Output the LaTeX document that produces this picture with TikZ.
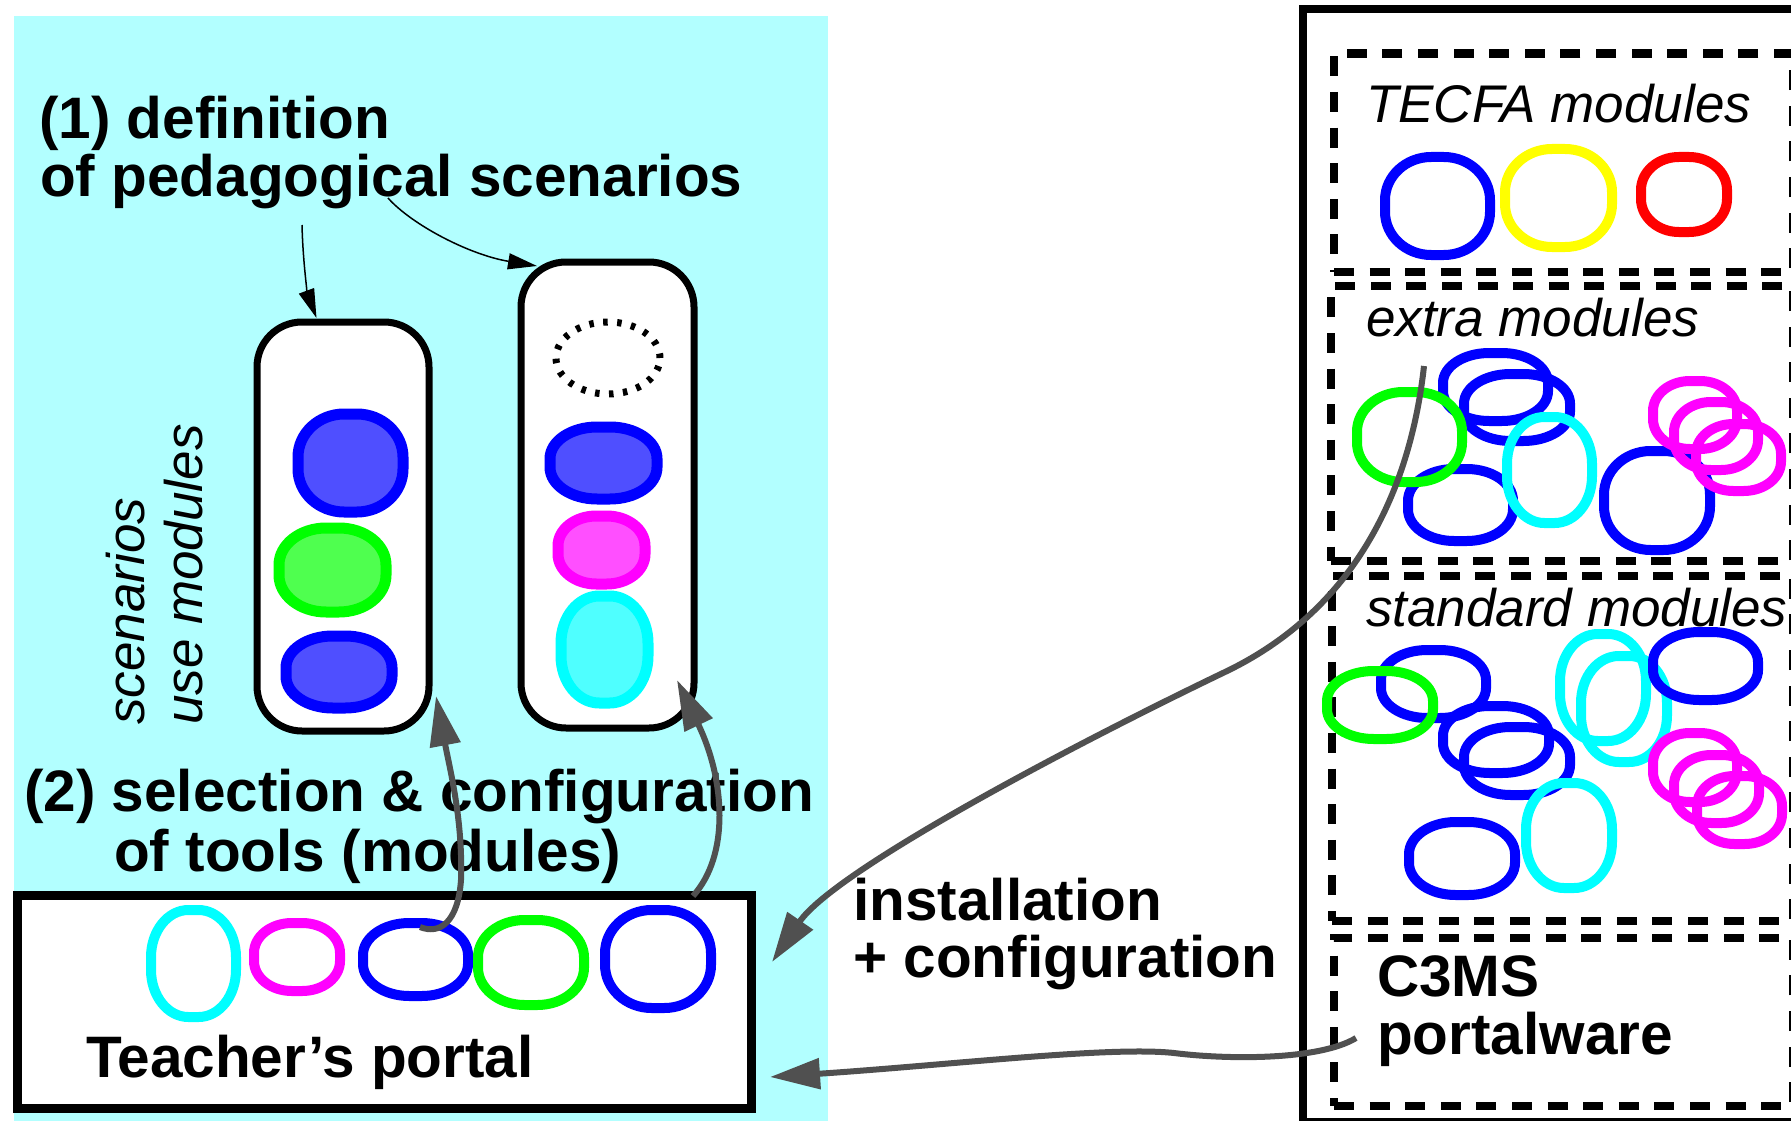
\documentclass[tikz,border=0pt]{standalone}
\usepackage{fontspec}
\setmainfont{Liberation Sans}
\usetikzlibrary{arrows.meta,shapes.geometric}

\definecolor{bgcyan}{RGB}{178,255,255}
\definecolor{arrgray}{RGB}{80,80,80}
\definecolor{mblue}{RGB}{0,0,255}
\definecolor{mgreen}{RGB}{0,255,0}
\definecolor{mcyan}{RGB}{0,255,255}
\definecolor{mmag}{RGB}{255,0,255}
\definecolor{myellow}{RGB}{255,255,0}
\definecolor{mred}{RGB}{255,0,0}
\definecolor{fblue}{RGB}{79,79,255}
\definecolor{fgreen}{RGB}{79,255,79}
\definecolor{fcyan}{RGB}{79,255,255}
\definecolor{fmag}{RGB}{255,79,255}

% a module: rounded box with elliptic corners
% [extra options]{colour}{x1}{y1}{x2}{y2}{name}, coordinates of the stroke centre
\newcommand\modring[7][]{%
  \pgfmathsetmacro\modw{#5-#3}\pgfmathsetmacro\modh{#6-#4}%
  \pgfmathsetmacro\modrx{0.44*\modw}\pgfmathsetmacro\modry{0.44*\modh}%
  \node[modnode, minimum width=\modw pt, minimum height=\modh pt]
    (#7) at ({(#3+#5)/2},{(#4+#6)/2}) {};
  \draw[ring, draw=#2, #1] ({#3+\modrx},#4) -- ({#5-\modrx},#4)
    arc[start angle=90,end angle=0,x radius=\modrx pt,y radius=\modry pt]
    -- (#5,{#6-\modry})
    arc[start angle=0,end angle=-90,x radius=\modrx pt,y radius=\modry pt]
    -- ({#3+\modrx},#6)
    arc[start angle=-90,end angle=-180,x radius=\modrx pt,y radius=\modry pt]
    -- (#3,{#4+\modry})
    arc[start angle=180,end angle=90,x radius=\modrx pt,y radius=\modry pt]
    -- cycle;}

\tikzset{
  modnode/.style={rectangle, inner sep=0pt, outer sep=0pt},
  ring/.style={line width=10pt},
  scbox/.style={rectangle, draw=black, fill=white, line width=7pt,
                rounded corners=45pt, inner sep=0pt, outer sep=0pt},
  dbox/.style={rectangle, draw=black, line width=8.5pt,
               dash pattern=on 20pt off 15.6pt, inner sep=0pt, outer sep=0pt},
  bigtext/.style={inner sep=0pt, anchor=base west,
                  font=\bfseries\fontsize{58.5}{58.5}\selectfont},
  itext/.style={inner sep=0pt, anchor=base west,
                font=\itshape\fontsize{53}{53}\selectfont},
  grayarrow/.style={draw=arrgray, line width=6pt,
                    -{Triangle[length=50pt,width=30pt]}},
  thinarrow/.style={draw=black, line width=1.5pt,
                    -{Triangle[length=29pt,width=16pt]}},
}

\begin{document}
\begin{tikzpicture}[x=1pt,y=-1pt]
\useasboundingbox (0,0) rectangle (1791,1121);
\fill[white] (0,0) rectangle (1791,1121);

% ---------- left side: teacher's workspace ----------
\fill[bgcyan] (14,16) rectangle (828,1130);

\node[bigtext] (title1) at (39,139) {(1) definition};
\node[bigtext] (title2) at (40,196) {of pedagogical scenarios};

\node[scbox, minimum width=172pt, minimum height=409pt] (sc1) at (343,526.5) {};
\node[scbox, minimum width=173pt, minimum height=466pt] (sc2) at (607.5,495) {};

\node[draw=black, ellipse, line width=7pt, dash pattern=on 4.5pt off 9.5pt,
      minimum width=104pt, minimum height=72pt, inner sep=0pt] (slot) at (608,358) {};

% modules chosen for the scenarios
\modring[line width=11pt, fill=fblue]{mblue}{298}{414}{403}{512}{f1}
\modring[line width=11pt, fill=fgreen]{mgreen}{279}{528}{386}{612}{f2}
\modring[line width=11pt, fill=fblue]{mblue}{286}{636}{392}{708}{f3}
\modring[line width=11pt, fill=fblue]{mblue}{550}{427}{657}{499}{f4}
\modring[line width=11pt, fill=fmag]{mmag}{558}{516}{645}{584}{f5}
\modring[line width=11pt, fill=fcyan]{mcyan}{561}{596}{648}{703}{f6}

\node[itext, rotate=90] (vt1) at (144,725) {scenarios};
\node[itext, rotate=90] (vt2) at (202,725) {use modules};

\node[bigtext] (sel1) at (24,811) {(2) selection \& configuration};
\node[bigtext] (sel2) at (114,871) {of tools (modules)};

% teacher's portal
\node[rectangle, draw=black, fill=white, line width=9pt, inner sep=0pt, outer sep=0pt,
      minimum width=734pt, minimum height=213pt] (portal) at (384,1001.5) {};
\modring{mcyan}{151}{910}{236}{1017}{p1}
\modring{mmag}{254}{923}{340}{991}{p2}
\modring{mblue}{363}{923}{468}{996}{p3}
\modring{mgreen}{478}{920}{584}{1005}{p4}
\modring{mblue}{605}{910}{711}{1008}{p5}
\node[bigtext] (portaltxt) at (86,1077) {Teacher’s portal};

% ---------- right side: the portalware ----------
\node[rectangle, draw=black, line width=8pt, inner sep=0pt, outer sep=0pt,
      minimum width=507pt, minimum height=1113pt] (panel) at (1556.5,565.5) {};

\node[dbox, minimum width=459pt, minimum height=218.4pt] (tecfa) at (1563.5,162.8) {};
\node[dbox, minimum width=462pt, minimum height=275pt] (extra) at (1562,423.5) {};
\node[dbox, minimum width=461pt, minimum height=345pt] (standard) at (1562.5,748.5) {};
\node[dbox, minimum width=459pt, minimum height=168pt] (c3ms) at (1563.5,1022) {};

\node[itext] (tecfatxt) at (1366,123) {TECFA modules};
\modring{mblue}{1385}{157}{1490}{255}{t1}
\modring{myellow}{1505}{149}{1612}{247}{t2}
\modring{mred}{1641}{157}{1727}{232}{t3}

\node[itext] (extratxt) at (1366,336) {extra modules};
\modring{mblue}{1443}{353}{1548}{421}{e1}
\modring{mblue}{1464}{374}{1570}{441}{e2}
\modring{mblue}{1408}{469}{1513}{541}{e3}
\modring{mblue}{1604}{451}{1710}{550}{e4}
\modring{mgreen}{1357}{392}{1462}{482}{e5}
\modring{mcyan}{1507}{417}{1592}{523}{e6}
\modring{mmag}{1653}{381}{1737}{449}{e7}
\modring{mmag}{1674}{402}{1758}{470}{e8}
\modring{mmag}{1696}{424}{1781}{491}{e9}

\node[itext] (stdtxt) at (1366,626) {standard modules};
\modring{mblue}{1381}{650}{1486}{718}{s1}
\modring{mblue}{1443}{706}{1549}{773}{s2}
\modring{mblue}{1464}{727}{1570}{795}{s3}
\modring{mblue}{1409}{822}{1515}{895}{s4}
\modring{mcyan}{1560}{634}{1646}{741}{s7}
\modring{mcyan}{1581}{656}{1667}{762}{s8}
\modring{mblue}{1653}{632}{1758}{700}{s5}
\modring{mcyan}{1526}{783}{1612}{888}{s9}
\modring{mgreen}{1327}{671}{1433}{739}{s6}
\modring{mmag}{1653}{733}{1737}{802}{s10}
\modring{mmag}{1674}{755}{1759}{823}{s11}
\modring{mmag}{1697}{776}{1782}{844}{s12}

\node[bigtext] (c3ms1) at (1377,996) {C3MS};
\node[bigtext] (c3ms2) at (1377,1054) {portalware};

\node[bigtext] (inst1) at (853,920) {installation};
\node[bigtext] (inst2) at (853,977) {+ configuration};

% ---------- connectors ----------
\draw[thinarrow] ([shift={(262pt,-29pt)}]title2.base west)
  .. controls (303,265) and (308,295) .. ([xshift=-26.5pt,yshift=4pt]sc1.north);
\draw[thinarrow] ([shift={(348pt,-2pt)}]title2.base west)
  .. controls (412,225) and (470,255) .. ([shift={(16pt,-4pt)}]sc2.north west);

\draw[grayarrow] ([xshift=4.5pt,yshift=-4pt]p3.north)
  .. controls (440,935) and (458,922) .. (461,880)
  .. controls (463,820) and (450,770) .. ([shift={(7pt,35pt)}]sc1.south east);
\draw[grayarrow] ([xshift=-58pt,yshift=-1pt]portal.north east)
  .. controls (730,855) and (725,780) .. ([shift={(-17pt,48pt)}]sc2.south east);

\draw[grayarrow] ([shift={(93pt,-80pt)}]extra.north west)
  .. controls (1412,475) and (1365,605) .. (1225,672)
  .. controls (1075,744) and (835,870) .. ([shift={(21pt,39.5pt)}]portal.east);
\draw[grayarrow] ([shift={(22pt,-100pt)}]c3ms.north west)
  .. controls (1320,1060) and (1230,1060) .. (1174,1053)
  .. controls (1110,1046) and (950,1065) .. ([shift={(19pt,31pt)}]portal.south east);
\end{tikzpicture}
\end{document}
